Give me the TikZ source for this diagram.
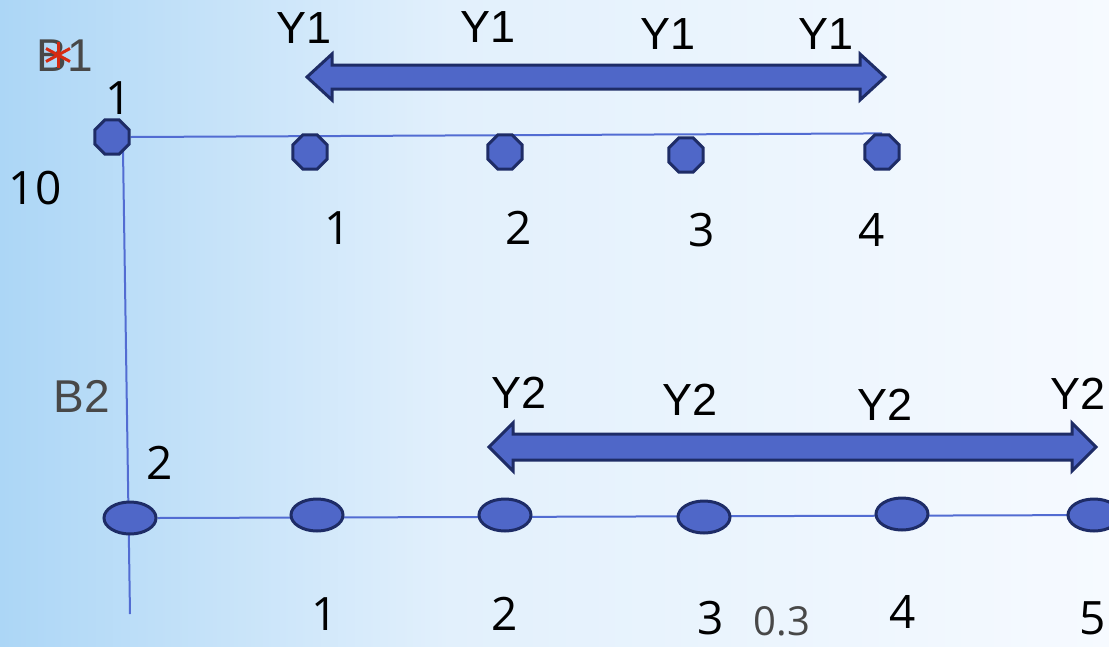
\documentclass[tikz,border=0pt]{standalone}
\usepackage{fontspec}
\setmainfont{Open Sans}
\newfontfamily\lib{Liberation Sans}
\usetikzlibrary{shapes.geometric,backgrounds,calc}
\definecolor{bgA}{RGB}{172,214,246}
\definecolor{bgB}{RGB}{226,240,252}
\definecolor{bgC}{RGB}{246,250,255}
\definecolor{nodefill}{RGB}{79,103,200}
\definecolor{nodeedge}{RGB}{30,44,102}
\definecolor{linec}{RGB}{82,108,210}
\definecolor{graytxt}{RGB}{72,72,72}
\definecolor{redstar}{RGB}{214,42,18}
\tikzset{
  oct/.style={regular polygon, regular polygon sides=8, minimum size=37pt, inner sep=0pt,
    fill=nodefill, draw=nodeedge, line width=3pt},
  ell/.style={ellipse, minimum width=52pt, minimum height=32pt, inner sep=0pt,
    fill=nodefill, draw=nodeedge, line width=3pt},
  num/.style={inner sep=0pt, font=\fontsize{46}{48}\selectfont},
  ylab/.style={inner sep=0pt, font=\lib\fontsize{45}{47}\selectfont},
  blab/.style={inner sep=0pt, text=graytxt, font=\lib\fontsize{46}{48}\selectfont},
  conn/.style={draw=linec, line width=2pt},
  bigarrow/.style={fill=nodefill, draw=nodeedge, line width=3pt, line join=miter},
}
\begin{document}
\begin{tikzpicture}[x=1pt,y=-1pt]
\useasboundingbox (0,0) rectangle (1109,646);
% nodes
\node[oct] (t0) at (112,137) {};
\node[oct] (t1) at (310,152) {};
\node[oct] (t2) at (505,152) {};
\node[oct] (t3) at (686,155) {};
\node[oct] (t4) at (882,152) {};
\node[ell] (b0) at (130,518) {};
\node[ell] (b1) at (317,515) {};
\node[ell] (b2) at (505,515) {};
\node[ell] (b3) at (704,517) {};
\node[ell] (b4) at (902,514) {};
\node[ell] (b5) at (1094,515) {};
\coordinate (vtop) at (123,150);
\coordinate (vbot) at (130,614);
\coordinate (bend) at (1109,515);
\begin{scope}[on background layer]
  \shade[left color=bgA, right color=bgB] (0,0) rectangle (450,646);
  \shade[left color=bgB, right color=bgC] (450,0) rectangle (1109,646);
  \draw[conn] (t0.east) -- (t4.north);
  \draw[conn] (vtop) -- (vbot);
  \draw[conn] (b0.east) -- (bend);
\end{scope}
% big double arrows
\draw[bigarrow] (307,77) -- (332,54) -- (332,65) -- (860,65) -- (860,54) -- (885,77)
  -- (860,100) -- (860,89) -- (332,89) -- (332,100) -- cycle;
\draw[bigarrow] (489,447) -- (513,423) -- (513,434) -- (1072,434) -- (1072,423) -- (1096,447)
  -- (1072,471) -- (1072,460) -- (513,460) -- (513,471) -- cycle;
% Y labels
\node[ylab] (y11) at (304,28) {Y1};
\node[ylab] (y12) at (488,27) {Y1};
\node[ylab] (y13) at (668,34) {Y1};
\node[ylab] (y14) at (826,34) {Y1};
\node[ylab] (y21) at (519,393) {Y2};
\node[ylab] (y22) at (690,400) {Y2};
\node[ylab] (y23) at (885,405) {Y2};
\node[ylab] (y24) at (1078,394) {Y2};
% B labels
\node[blab] (B1) at (65,56) {B1};
\node[blab] (B2) at (82,396) {B2};
\coordinate (star) at (58,55);
\draw[redstar, line width=3pt] ($(star)+(0,-13)$) -- ($(star)+(0,13)$);
\draw[redstar, line width=3pt] ($(star)+(-12,-6.5)$) -- ($(star)+(12,6.5)$);
\draw[redstar, line width=3pt] ($(star)+(-12,6.5)$) -- ($(star)+(12,-6.5)$);
% numbers
\node[num] (n1) at (119,98) {1};
\node[num] (n10) at (35,188) {10};
\node[num] (n2) at (160,463) {2};
\node[num] (ta) at (338,228) {1};
\node[num] (tb) at (519,228) {2};
\node[num] (tc) at (702,230) {3};
\node[num] (td) at (872,230) {4};
\node[num] (ba) at (325,614) {1};
\node[num] (bb) at (505,614) {2};
\node[num] (bc) at (711,618) {3};
\node[num] (bd) at (903,612) {4};
\node[num] (be) at (1093,618) {5};
\node[num, text=graytxt, anchor=north, font=\fontsize{40}{42}\selectfont] (z3) at (782,606) {0.3};
\end{tikzpicture}
\end{document}
